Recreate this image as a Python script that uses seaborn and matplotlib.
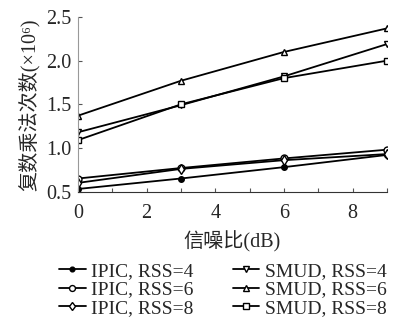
import numpy as np
import pandas as pd
import seaborn as sns
import matplotlib
matplotlib.use("Agg")
import matplotlib.pyplot as plt
from matplotlib.ticker import MultipleLocator

sns.set_style("ticks")
plt.rcParams['font.family'] = ['Liberation Serif', 'Noto Sans CJK SC', 'DejaVu Serif']

# SNR (dB)
snr = [0, 3, 6, 9]

# complex multiplications (x10^6)
ipic_rss4 = [0.53, 0.65, 0.78, 0.92]
ipic_rss6 = [0.65, 0.77, 0.88, 0.98]
ipic_rss8 = [0.60, 0.76, 0.86, 0.93]
smud_rss4 = [1.18, 1.49, 1.82, 2.19]
smud_rss6 = [1.37, 1.77, 2.10, 2.37]
smud_rss8 = [1.09, 1.50, 1.80, 2.00]

labels = ["IPIC, RSS=4", "IPIC, RSS=6", "IPIC, RSS=8",
          "SMUD, RSS=4", "SMUD, RSS=6", "SMUD, RSS=8"]
series = [ipic_rss4, ipic_rss6, ipic_rss8, smud_rss4, smud_rss6, smud_rss8]
markers = [".", "o", "d", "v", "^", "s"]

df = pd.DataFrame({
    "snr": snr * len(series),
    "value": np.concatenate(series),
    "label": np.repeat(labels, len(snr)),
})

fig = plt.figure(figsize=(3.98, 3.22), dpi=100)
ax = fig.add_axes([0.196, 0.405, 0.776, 0.542])

for lab, mk in zip(labels, markers):
    sub = df[df["label"] == lab]
    filled = mk == "."
    sns.lineplot(data=sub, x="snr", y="value", ax=ax, color="black",
                 linewidth=1.3, marker=mk, markersize=8 if filled else 5,
                 markerfacecolor="black" if filled else "white",
                 markeredgecolor="black", markeredgewidth=1.0, label=lab)

ax.set_xlim(0, 9)
ax.set_ylim(0.5, 2.5)
ax.xaxis.set_major_locator(MultipleLocator(2))
ax.xaxis.set_minor_locator(MultipleLocator(1))
ax.yaxis.set_major_locator(MultipleLocator(0.5))
ax.yaxis.set_major_formatter(matplotlib.ticker.FormatStrFormatter("%.1f"))
ax.tick_params(axis="both", which="both", direction="in", labelsize=14.5, length=3,
               width=0.8, color="#555555")
ax.tick_params(axis="x", which="major", pad=9)
ax.tick_params(axis="y", pad=5)
sns.despine(ax=ax)
ax.spines["left"].set_color("#999999")
ax.spines["bottom"].set_color("#333333")

ax.set_xlabel("信噪比(dB)", fontsize=14.5, labelpad=6)
ax.set_ylabel("复数乘法次数(×10⁶)", fontsize=14.5, labelpad=4)

handles, labs = ax.get_legend_handles_labels()
ax.legend_.remove()
fig.legend(handles, labs, ncol=2, loc="upper center",
           bbox_to_anchor=(0.56, 0.21), frameon=False, fontsize=14,
           handlelength=1.35, handletextpad=0.3, columnspacing=2.0,
           labelspacing=0.05, borderaxespad=0, markerscale=0.85)

fig.savefig("out.png", dpi=100)
